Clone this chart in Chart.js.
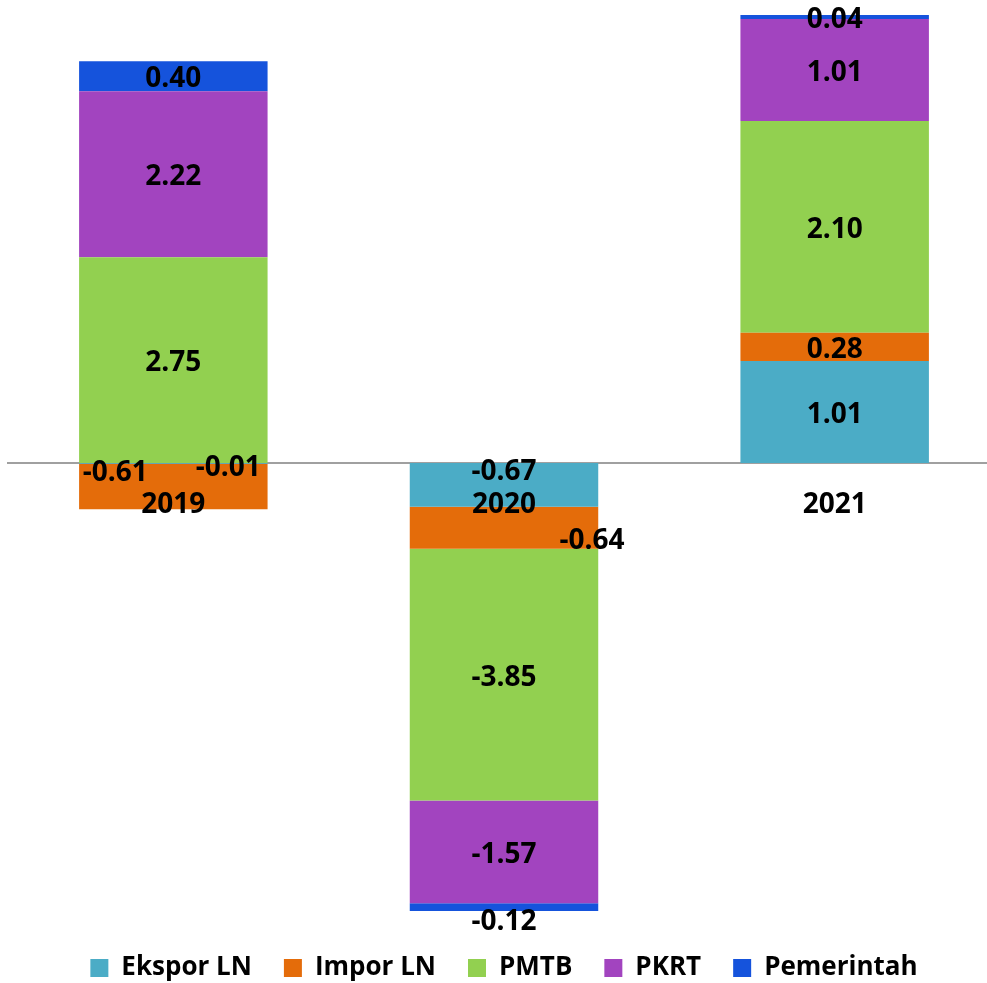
<!DOCTYPE html>
<html>
<head>
<meta charset="utf-8">
<script src="https://cdn.jsdelivr.net/npm/chart.js@4"></script>
<style>
html,body{margin:0;padding:0;background:#fff;overflow:hidden;}
#wrap{position:absolute;left:0;top:0;width:1000px;height:991px;}
</style>
</head>
<body>
<div id="wrap"><canvas id="c"></canvas></div>
<script>
const categories = ['2019', '2020', '2021'];
const eksporLN   = [-0.01, -0.67, 1.01];
const imporLN    = [-0.61, -0.64, 0.28];
const pmtb       = [2.75, -3.85, 2.10];
const pkrt       = [2.22, -1.57, 1.01];
const pemerintah = [0.40, -0.12, 0.04];

const seriesNames  = ['Ekspor LN', 'Impor LN', 'PMTB', 'PKRT', 'Pemerintah'];
const seriesValues = [eksporLN, imporLN, pmtb, pkrt, pemerintah];
const seriesColors = ['#4BACC6', '#E46C0A', '#92D050', '#A244BF', '#1553DC'];

// 100% stacked (share of absolute total per category)
const absTotals = categories.map((_, i) => seriesValues.reduce((s, arr) => s + Math.abs(arr[i]), 0));

const datasets = seriesValues.map((arr, k) => ({
  label: seriesNames[k],
  data: arr.map((v, i) => v / absTotals[i]),
  raw: arr,
  backgroundColor: seriesColors[k],
  borderWidth: 0,
  categoryPercentage: 1.0,
  barPercentage: 0.57,
  stack: 's'
}));

// label offsets (dataset index -> category index -> [dx, dy])
const labelOffsets = {
  0: {0: [55, 2], 1: [0, -16]},
  1: {0: [-58, -17], 1: [88, 10]},
  4: {1: [0, 12]}
};

const FONT = '"Open Sans", sans-serif';

const labelPlugin = {
  id: 'segLabels',
  afterDatasetsDraw(chart) {
    const ctx = chart.ctx;
    ctx.save();
    ctx.font = 'bold 28px ' + FONT;
    ctx.fillStyle = '#000';
    ctx.textAlign = 'center';
    ctx.textBaseline = 'middle';
    chart.data.datasets.forEach((ds, k) => {
      const meta = chart.getDatasetMeta(k);
      meta.data.forEach((el, i) => {
        const cx = el.x;
        const cy = (el.y + el.base) / 2 + 3;
        const off = (labelOffsets[k] && labelOffsets[k][i]) || [0, 0];
        ctx.fillText(ds.raw[i].toFixed(2), cx + off[0], cy + off[1]);
      });
    });
    ctx.restore();
  }
};

new Chart(document.getElementById('c'), {
  type: 'bar',
  data: { labels: categories, datasets },
  options: {
    responsive: true,
    maintainAspectRatio: false,
    animation: false,
    layout: { padding: { left: 8, right: 0, top: 15, bottom: 0 } },
    scales: {
      x: {
        stacked: true,
        position: { y: 0 },
        grid: { display: false, drawTicks: false },
        border: { display: true, color: '#A0A0A0', width: 2, z: 0 },
        ticks: {
          z: 2,
          padding: 25,
          color: '#000',
          font: { family: FONT, size: 28, weight: 'bold' }
        }
      },
      y: {
        stacked: true,
        display: false,
        min: -1.0268,
        max: 1
      }
    },
    plugins: {
      legend: {
        position: 'bottom',
        labels: {
          boxWidth: 18,
          boxHeight: 18,
          padding: 32,
          color: '#000',
          font: { family: FONT, size: 26, weight: 'bold' }
        }
      },
      tooltip: { enabled: false }
    }
  },
  plugins: [labelPlugin]
});
</script>
</body>
</html>
